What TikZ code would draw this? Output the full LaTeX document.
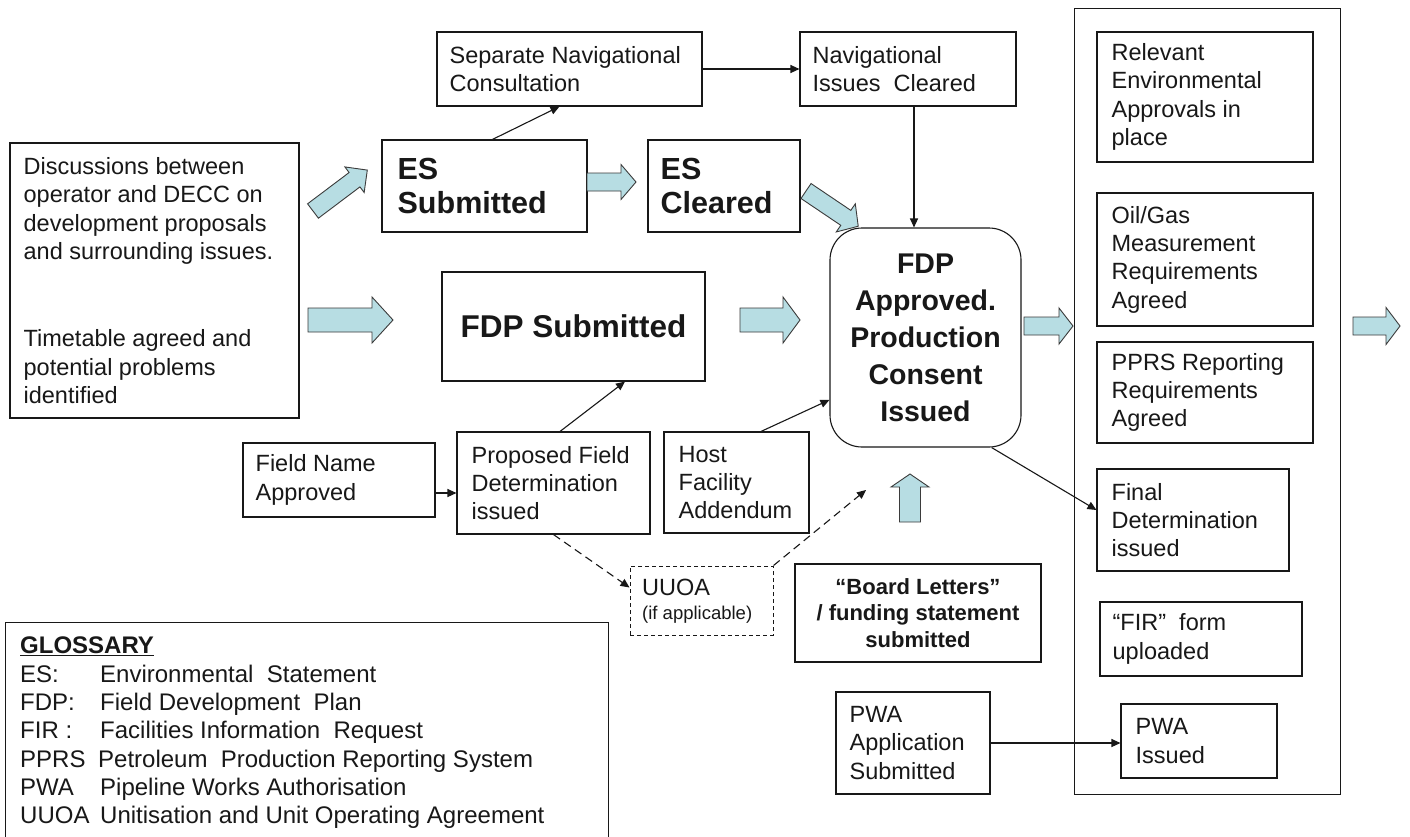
\documentclass[tikz,border=0pt]{standalone}
\usepackage{fontspec}
\setmainfont{Liberation Sans}
\usetikzlibrary{arrows.meta,calc}
\definecolor{arrowblue}{RGB}{183,221,227}
\definecolor{ink}{RGB}{24,24,24}
\newcommand\fsN{\fontsize{23.5}{28.3}\selectfont}
\newcommand\fsES{\fontsize{30.5}{34}\selectfont\bfseries}
\newcommand\fsFS{\fontsize{31.5}{34}\selectfont\bfseries}
\newcommand\fsAP{\fontsize{28.5}{37}\selectfont\bfseries}
\newcommand\fsBL{\fontsize{22}{26.5}\selectfont\bfseries}
\newcommand\fsGL{\fontsize{24}{28.3}\selectfont}
\newcommand\fsSM{\fontsize{18.5}{20}\selectfont}
\tikzset{
 box/.style={draw=ink, line width=1.1pt, inner sep=0pt},
 txt/.style={inner sep=0pt, anchor=west, align=left, text=ink, font=\fsN},
 conn/.style={draw=ink, line width=1.1pt, -{Triangle[length=9pt,width=8pt]}},
 blk/.style={draw=ink!85, line width=0.9pt, fill=arrowblue, line join=miter},
 pics/barrow/.style args={#1/#2/#3/#4}{code={
   \path[blk] (0,-#2)--({#1-#4},-#2)--({#1-#4},-#3)--(#1,0)--({#1-#4},#3)--({#1-#4},#2)--(0,#2)--cycle;}}
}
\begin{document}
\begin{tikzpicture}[x=1pt,y=-1pt]
\useasboundingbox (0,0) rectangle (1410,836);
\fill[white] (0,0) rectangle (1410,836);

% ---------- boxes ----------
\node[box, minimum width=289, minimum height=275] (disc) at (154.5,280.5) {};
\node[txt] (disct) at ($(disc.west)+(14,0)$) {Discussions between\\operator and DECC on\\development proposals\\and surrounding issues.\\[59pt]Timetable agreed and\\potential problems\\identified};

\node[box, minimum width=265, minimum height=74] (sepnav) at (569.5,69) {};
\node[txt] (sepnavt) at ($(sepnav.west)+(13,0)$) {Separate Navigational\\Consultation};

\node[box, minimum width=216, minimum height=74] (navclr) at (908,69) {};
\node[txt] (navclrt) at ($(navclr.west)+(13,0)$) {Navigational\\Issues\ \ Cleared};

\node[box, minimum width=205, minimum height=92] (essub) at (484.5,186) {};
\node[txt, font=\fsES] (essubt) at ($(essub.west)+(16,0)$) {ES\\Submitted};

\node[box, minimum width=152, minimum height=92] (esclr) at (724,186) {};
\node[txt, font=\fsES] (esclrt) at ($(esclr.west)+(13,0)$) {ES\\Cleared};

\node[box, minimum width=263, minimum height=109, font=\fsFS, text=ink] (fdpsub) at (573.5,326.5) {FDP Submitted};

\node[box, rounded corners=32pt, minimum width=191, minimum height=219, font=\fsAP, align=center, text=ink] (fdpapp) at (925.5,337.5) {FDP\\Approved.\\Production\\Consent\\Issued};

\node[box, minimum width=266, minimum height=786, anchor=north west] (group) at (1074,8) {};

\node[box, minimum width=216, minimum height=130] (relenv) at (1205,97) {};
\node[txt] (relenvt) at ($(relenv.west)+(15,0)$) {Relevant\\Environmental\\Approvals in\\place};

\node[box, minimum width=216, minimum height=133] (oilgas) at (1205,259.5) {};
\node[txt] (oilgast) at ($(oilgas.west)+(15,0)$) {Oil/Gas\\Measurement\\Requirements\\Agreed};

\node[box, minimum width=216, minimum height=101] (pprs) at (1205,392.5) {};
\node[txt] (pprst) at ($(pprs.west)+(15,0)$) {PPRS Reporting\\Requirements\\Agreed};

\node[box, minimum width=192, minimum height=102] (finaldet) at (1193,520) {};
\node[txt] (finaldett) at ($(finaldet.west)+(15,0)$) {Final\\Determination\\issued};

\node[box, minimum width=202, minimum height=74] (fir) at (1201,639) {};
\node[txt] (firt) at ($(fir.west)+(13,0)$) {“FIR”\ \ form\\uploaded};

\node[box, minimum width=156, minimum height=74] (pwaiss) at (1199,741) {};
\node[txt] (pwaisst) at ($(pwaiss.west)+(15,0)$) {PWA\\Issued};

\node[box, minimum width=154, minimum height=102] (pwaapp) at (913,743) {};
\node[txt] (pwaappt) at ($(pwaapp.west)+(14,0)$) {PWA\\Application\\Submitted};

\node[box, minimum width=246, minimum height=98, font=\fsBL, align=center, text=ink] (board) at (918,613) {“Board Letters”\\/ funding statement\\submitted};

\node[box, minimum width=145, minimum height=101] (host) at (736.5,482.5) {};
\node[txt] (hostt) at ($(host.west)+(15,0)$) {Host\\Facility\\Addendum};

\node[box, minimum width=193, minimum height=102] (propfield) at (553.5,483) {};
\node[txt] (propfieldt) at ($(propfield.west)+(15,0)$) {Proposed Field\\Determination\\issued};

\node[box, minimum width=192, minimum height=74] (fieldname) at (339,480) {};
\node[txt] (fieldnamet) at ($(fieldname.west)+(13,0)$) {Field Name\\Approved};

\node[box, dash pattern=on 4pt off 3pt, line width=1pt, minimum width=143, minimum height=69] (uuoa) at (701.5,600.5) {};
\node[txt] (uuoat) at (642,587) {UUOA};
\node[txt, font=\fsSM] (uuoas) at (642,615) {(if applicable)};

\node[box, minimum width=603, minimum height=240, anchor=north west] (gloss) at (5,622) {};
\node[txt, anchor=north west, font=\fsGL] (glosst) at (20,637) {\textbf{\underline{GLOSSARY}}\\
\makebox[80pt][l]{ES:}Environmental\ \ Statement\\
\makebox[80pt][l]{FDP:}Field Development\ \ Plan\\
\makebox[80pt][l]{FIR :}Facilities Information\ \ Request\\
\makebox[78pt][l]{PPRS}Petroleum\ \ Production Reporting System\\
\makebox[80pt][l]{PWA}Pipeline Works Authorisation\\
\makebox[80pt][l]{UUOA}Unitisation and Unit Operating Agreement};

% ---------- connectors ----------
\draw[conn] (sepnav.east) -- (navclr.west);
\coordinate (c1) at ($(essub.north west)+(111,0)$);
\coordinate (c2) at ($(sepnav.south west)+(123,0)$);
\draw[conn] (c1) -- (c2);
\coordinate (c3) at ($(navclr.south)+(6,0)$);
\draw[conn] (c3) -- (c3 |- fdpapp.north);
\coordinate (c4) at ($(propfield.north)+(6.5,0)$);
\coordinate (c5) at ($(fdpsub.south)+(51.5,0)$);
\draw[conn] (c4) -- (c5);
\coordinate (c6) at ($(fieldname.east)+(0,13)$);
\draw[conn] (c6) -- (c6 -| propfield.west);
\coordinate (c7) at ($(host.north)+(24.5,0)$);
\draw[conn] (c7) -- (fdpapp.213);
\draw[conn] (fdpapp.-59) -- ($(finaldet.west)+(0,-10)$);
\draw[conn, dash pattern=on 8pt off 5pt] (propfield.south) -- ($(uuoa.west)+(0,-13)$);
\coordinate (c8) at (866,490);
\draw[conn, dash pattern=on 8pt off 5pt] (uuoa.north east) -- (c8);
\draw[conn] (pwaapp.east) -- (pwaapp.east -| pwaiss.west);

% ---------- block arrows ----------
\pic[rotate=37] at (313,211) {barrow=68/9/16/16};
\pic at (308,320) {barrow=85/12/23/21};
\pic at (587,182) {barrow=49/9/17.5/15};
\pic[rotate=-34] at (806,191) {barrow=63/9/17/15};
\pic at (740,320) {barrow=60/12/23/17};
\pic at (1024,326) {barrow=49/9/18/14};
\pic at (1353,326) {barrow=47/9/18.5/14};
\pic[rotate=90] at (910,522) {barrow=48/10.5/19/13};
\end{tikzpicture}
\end{document}
